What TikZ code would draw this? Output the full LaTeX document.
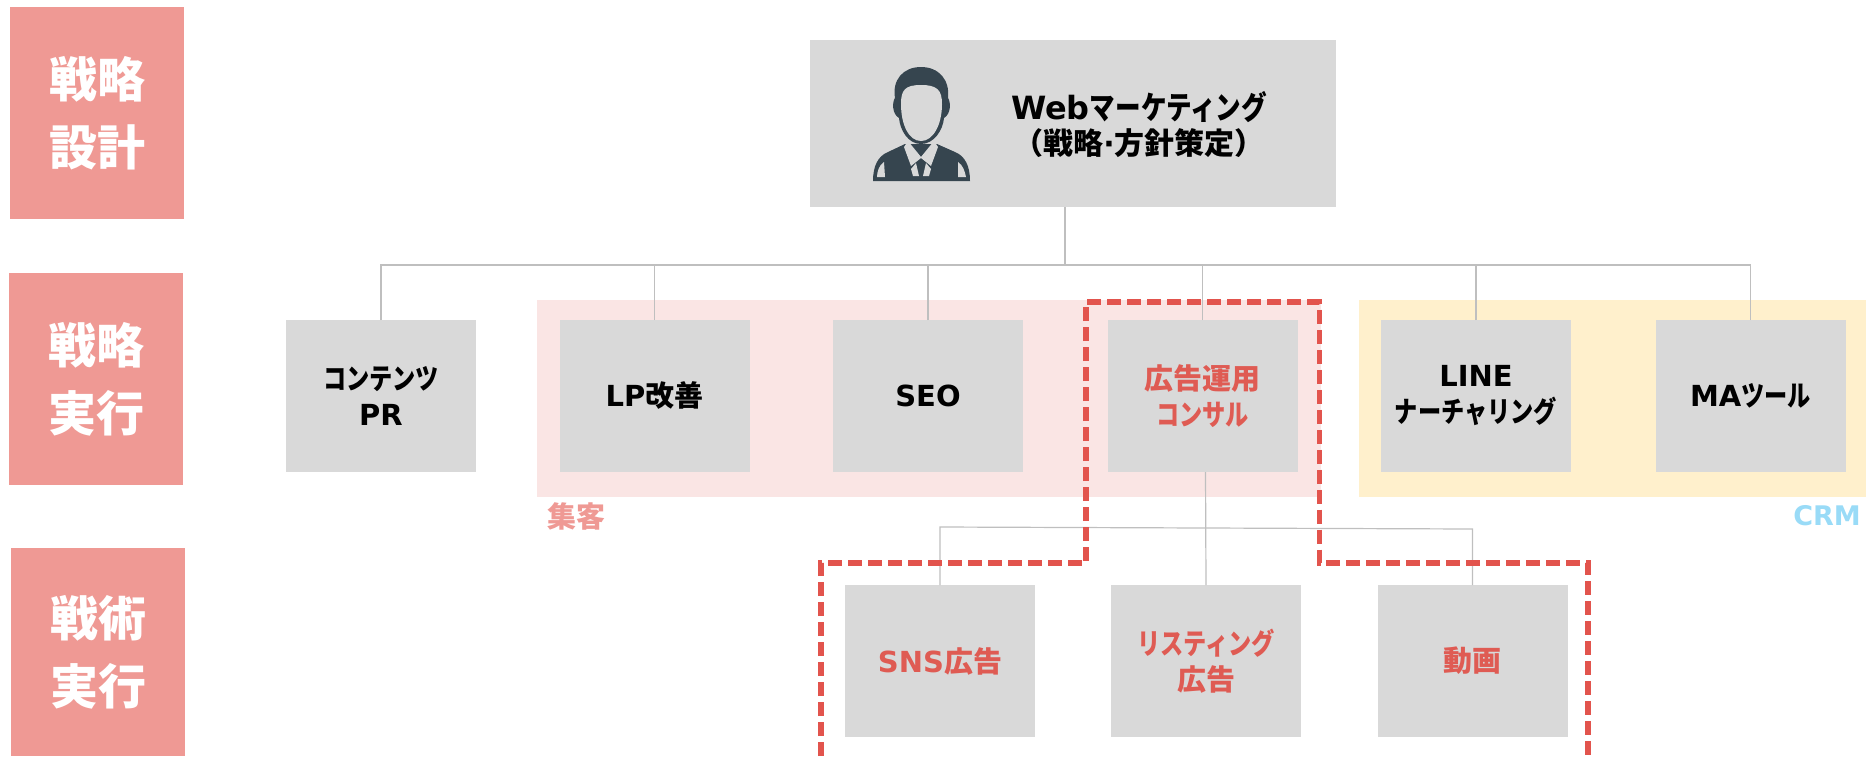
\documentclass[tikz,border=0pt]{standalone}
\usepackage{fontspec}
\newfontfamily\kjf{Noto Sans CJK JP}
\newfontfamily\kanaf{Noto Sans CJK JP}[FakeStretch=0.8]
\newfontfamily\latf{DejaVu Sans}
\newcommand\kn[1]{{\kanaf\bfseries #1}}
\newcommand\lt[1]{{\latf\bfseries #1}}
\newcommand\upb[1]{\raisebox{2pt}{#1}}
\definecolor{boxgray}{HTML}{D9D9D9}
\definecolor{salmon}{HTML}{EF9994}
\definecolor{pinkbg}{HTML}{FAE5E4}
\definecolor{yellowbg}{HTML}{FFF0CC}
\definecolor{redtxt}{HTML}{DF5B53}
\definecolor{dashred}{HTML}{E2544D}
\definecolor{linegray}{HTML}{BFBFBF}
\definecolor{iconc}{HTML}{36454F}
\definecolor{crmblue}{HTML}{99DBF7}
\tikzset{
 x=1pt,y=-1pt,
 every node/.style={inner sep=0pt,outer sep=0pt},
 sidebox/.style={fill=salmon,text=white,align=center,minimum width=174pt,font=\kjf\bfseries\fontsize{48}{68}\selectfont},
 itembox/.style={fill=boxgray,align=center,minimum width=190pt,minimum height=152pt,text=black,font=\kjf\bfseries\fontsize{29}{36}\selectfont},
 hot/.style={text=redtxt},
 conn/.style={draw=linegray,line width=1.2pt},
 redline/.style={draw=dashred,line width=5.2pt,dash pattern=on 14pt off 6pt,line join=miter},
}
\begin{document}
\begin{tikzpicture}
\useasboundingbox (0,0) rectangle (1869,756);
% group backgrounds
\fill[pinkbg] (537,300) rectangle (1321,497);
\fill[yellowbg] (1359,300) rectangle (1866,497);
% side labels
\node[sidebox,minimum height=212pt] (s1) at (97,113) {\upb{戦略}\\\upb{設計}};
\node[sidebox,minimum height=212pt] (s2) at (96,379) {\upb{戦略}\\\upb{実行}};
\node[sidebox,minimum height=208pt] (s3) at (98,652) {戦術\\実行};
% top node
\node[fill=boxgray,minimum width=526pt,minimum height=167pt] (top) at (1073,123.5) {};
\node[align=center,font=\kjf\bfseries\fontsize{32}{36}\selectfont] (webt) at (1139,124.5) {\lt{Web}\kn{マーケティング}\\[-1pt]{\fontsize{30}{36}\selectfont （戦略\lt{·}方針策定）}};
% person icon
\fill[iconc] (873,181) .. controls (873,166) and (878,156) .. (888,152) -- (905,144) -- (937,144) -- (955,152) .. controls (965,156) and (970,166) .. (970,181) -- cycle;
\fill[iconc] (899,118) .. controls (892,114) and (892,102) .. (895,98) .. controls (892,80) and (903,67) .. (921,67) .. controls (939,67) and (950,80) .. (948,98) .. controls (951,102) and (951,114) .. (944,118) .. controls (943,130) and (934,144) .. (921,144) .. controls (908,144) and (900,130) .. (899,118) -- cycle;
\fill[boxgray] (901,104) .. controls (901,90) and (905,85) .. (921,85) .. controls (937,85) and (942,90) .. (942,104) .. controls (942,125) and (933,141) .. (921,141) .. controls (909,141) and (901,125) .. (901,104) -- cycle;
\fill[boxgray] (904,147) -- (908,141) -- (921,157) -- (934,141) -- (938,147) -- (931,166) -- (921,158) -- (911,166) -- cycle;
\fill[boxgray] (911,169) -- (916,163) -- (919,176) -- (913,176) -- cycle;
\fill[boxgray] (931,169) -- (926,163) -- (923,176) -- (929,176) -- cycle;
\fill[boxgray] (884,162) .. controls (879,165) and (877,172) .. (877,177) -- (885,177) -- cycle;
\fill[boxgray] (958,162) .. controls (963,165) and (965,172) .. (966,177) -- (958,177) -- cycle;
% second row
\node[itembox] (cp) at (381,396) {\kn{コンテンツ}\\\lt{PR}};
\node[itembox] (lp) at (654.5,396) {\lt{LP}改善};
\node[itembox] (seo) at (928,396) {\lt{SEO}};
\node[itembox,hot] (ad) at (1202.5,396) {広告運用\\\kn{コンサル}};
\node[itembox] (line) at (1476,396) {\lt{LINE}\\\kn{ナーチャリング}};
\node[itembox] (ma) at (1750.5,396) {\lt{MA}\kn{ツール}};
% third row
\node[itembox,hot] (sns) at (940,661) {\lt{SNS}広告};
\node[itembox,hot] (list) at (1206,661) {\kn{リスティング}\\広告};
\node[itembox,hot] (mov) at (1472.5,661) {動画};
% group labels
\node[text=salmon,font=\kjf\bfseries\fontsize{29}{35}\selectfont] (lab1) at (576,516) {集客};
\node[text=crmblue,font=\latf\bfseries\fontsize{27}{30}\selectfont] (lab2) at (1827,516) {CRM};
% connectors
\coordinate (topout) at (1065,207);
\coordinate (bus) at (1065,265);
\draw[conn] (topout) -- (bus);
\draw[conn] (cp.north) |- (bus);
\draw[conn] (ma.north) |- (bus);
\draw[conn] (lp.north) -- (lp.north |- bus);
\draw[conn] (seo.north) -- (seo.north |- bus);
\draw[conn] (ad.north) -- (ad.north |- bus);
\draw[conn] (line.north) -- (line.north |- bus);
\coordinate (adout) at (1205.5,472);
\coordinate (subl) at (940,527);
\coordinate (subr) at (1472.5,529);
\draw[conn] (adout) -- (list.north);
\draw[conn] (sns.north) -- (subl) -- (subr) -- (mov.north);
% dashed outline
\coordinate (d1) at (821,756);
\coordinate (d2) at (821,563);
\coordinate (d3) at (1086,563);
\coordinate (d4) at (1086,302);
\coordinate (d5) at (1319.5,302);
\coordinate (d6) at (1319.5,563);
\coordinate (d7) at (1588,563);
\coordinate (d8) at (1588,756);
\draw[redline] (d1) -- (d2) -- (d3) -- (d4) -- (d5) -- (d6) -- (d7) -- (d8);
\end{tikzpicture}
\end{document}
